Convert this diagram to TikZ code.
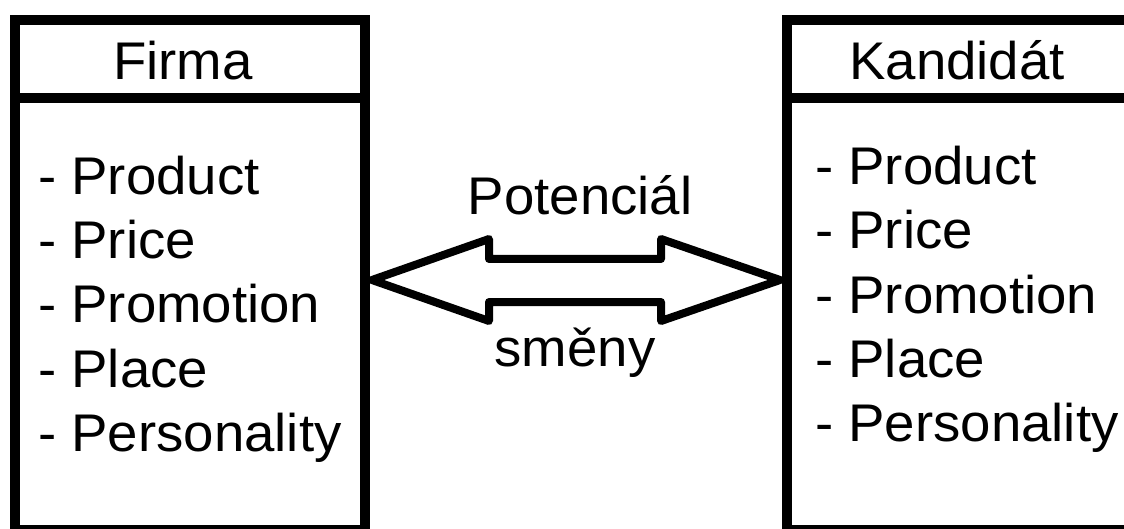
\documentclass[tikz,border=0pt]{standalone}
\usepackage{fontspec}
\setmainfont{Liberation Sans}[FakeStretch=1.03]
\begin{document}
\begin{tikzpicture}[x=1pt,y=-1pt,
  boxstyle/.style={draw, line width=10pt, outer sep=0pt, inner sep=0pt, anchor=north west, minimum width=350pt, minimum height=510pt},
  txt/.style={font=\fontsize{53}{66}\selectfont, inner sep=0pt},
  arrowshape/.style={draw, line width=8pt, line join=round}]
\useasboundingbox (0,0) rectangle (1124,529);
\clip (0,0) rectangle (1124,529);
% boxes
\node[boxstyle] (firma) at (15,20) {};
\node[boxstyle] (kand) at (787,20) {};
\draw[line width=10pt] (firma.west |- 0,98) coordinate (fl) -- (firma.east |- 0,98) coordinate (fr);
\draw[line width=10pt] (kand.west |- 0,98) coordinate (kl) -- (kand.east |- 0,98) coordinate (kr);
% titles
\node[txt, anchor=base] (firmaT) at (183,80) {Firma};
\node[txt, anchor=base] (kandT) at (957,80) {Kandidát};
% lists
\foreach \t [count=\i] in {Product,Price,Promotion,Place,Personality}{
  \node[txt, anchor=base west] (l\i) at (38,{195+64*(\i-1)}) {- \t};
  \node[txt, anchor=base west] (r\i) at (815,{185+64*(\i-1)}) {- \t};
}
% double arrow
\coordinate (tipL) at (372,280);
\coordinate (tipR) at (780,280);
\draw[arrowshape] (tipL) -- (489,239) -- (489,259) -- (661,259) -- (661,239) -- (tipR)
  -- (661,321) -- (661,302) -- (489,302) -- (489,321) -- cycle;
\node[txt, anchor=base] (pot) at (580,215) {Potenciál};
\node[txt, anchor=base] (smeny) at (575,366) {směny};
\end{tikzpicture}
\end{document}
